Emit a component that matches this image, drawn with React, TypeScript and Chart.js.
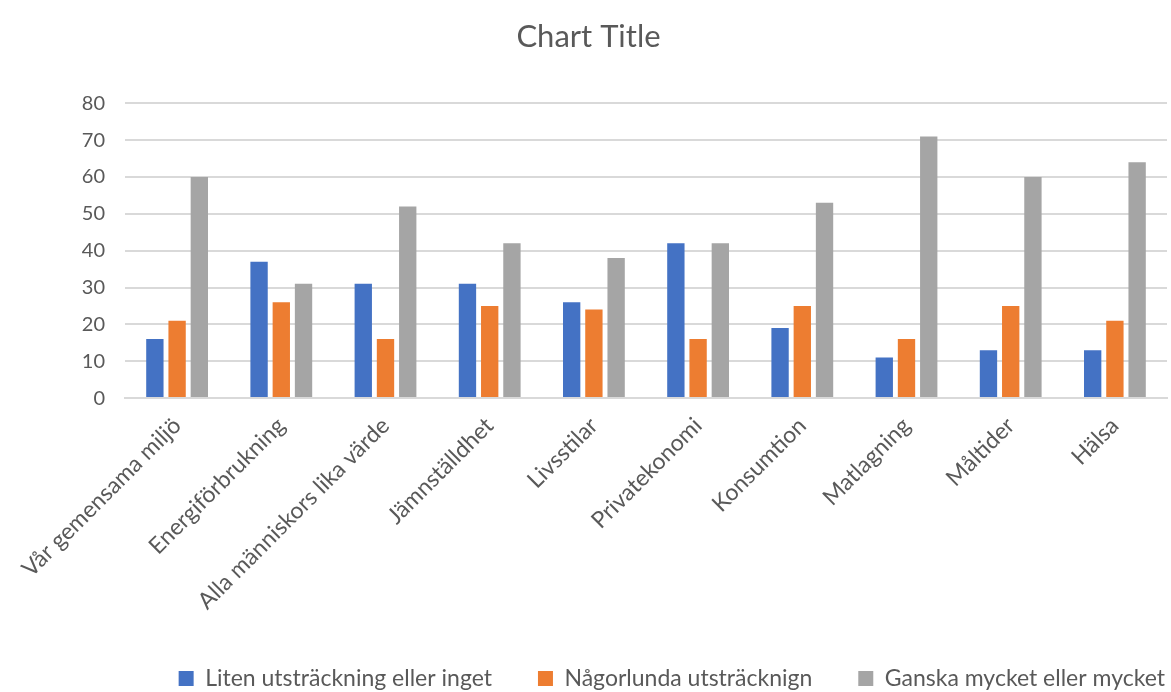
import React, { useEffect, useRef } from "react";
import { Chart, registerables } from "chart.js";

Chart.register(...registerables);

const categories = [
  "Vår gemensama miljö",
  "Energiförbrukning",
  "Alla människors lika värde",
  "Jämnställdhet",
  "Livsstilar",
  "Privatekonomi",
  "Konsumtion",
  "Matlagning",
  "Måltider",
  "Hälsa",
];

const seriesNames = [
  "Liten utsträckning eller inget",
  "Någorlunda utsträcknign",
  "Ganska mycket eller mycket",
];

const litenValues = [16, 37, 31, 31, 26, 42, 19, 11, 13, 13];
const nagorlundaValues = [21, 26, 16, 25, 24, 16, 25, 16, 25, 21];
const ganskaValues = [60, 31, 52, 42, 38, 42, 53, 71, 60, 64];

const colors = ["#4472C4", "#ED7D31", "#A5A5A5"];

const legendShift = {
  id: "legendShift",
  afterLayout(chart: any) {
    if (chart.legend) {
      chart.legend.left += 44;
      chart.legend.right += 44;
    }
  },
};

export default function App() {
  const ref = useRef<HTMLCanvasElement | null>(null);

  useEffect(() => {
    if (!ref.current) return;
    const font = "Lato, 'Open Sans', sans-serif";
    const chart = new Chart(ref.current, {
      type: "bar",
      data: {
        labels: categories,
        datasets: [litenValues, nagorlundaValues, ganskaValues].map((d, i) => ({
          label: seriesNames[i],
          data: d,
          backgroundColor: colors[i],
          borderWidth: 0,
          categoryPercentage: 0.64,
          barPercentage: 0.78,
        })),
      },
      plugins: [legendShift],
      options: {
        animation: false,
        responsive: false,
        maintainAspectRatio: false,
        layout: { padding: { left: 10, right: 4, top: 18, bottom: -8 } },
        plugins: {
          title: {
            display: true,
            text: "Chart Title",
            color: "#595959",
            font: { family: font, size: 31, weight: "normal" },
            padding: { top: 0, bottom: 48 },
          },
          legend: {
            position: "bottom",
            align: "end",
            labels: {
              color: "#595959",
              font: { family: font, size: 23 },
              boxWidth: 15,
              boxHeight: 15,
              padding: 46,
            },
          },
          tooltip: { enabled: false },
        },
        scales: {
          x: {
            grid: { display: false },
            border: { display: true, color: "#D9D9D9", width: 2 },
            ticks: {
              color: "#595959",
              font: { family: font, size: 23 },
              maxRotation: 45,
              minRotation: 45,
              autoSkip: false,
              padding: 6,
            },
          },
          y: {
            min: 0,
            max: 80,
            afterFit: (scale: any) => {
              scale.width = 115;
            },
            ticks: {
              stepSize: 10,
              color: "#595959",
              font: { family: font, size: 20 },
              padding: 20,
            },
            grid: { color: "#D9D9D9", lineWidth: 2, drawTicks: false },
            border: { display: false },
          },
        },
      },
    });
    return () => chart.destroy();
  }, []);

  return (
    <div style={{ position: "fixed", left: 0, top: 0, width: 1171, height: 692, background: "#fff" }}>
      <canvas ref={ref} width={1171} height={692} style={{ width: 1171, height: 692 }} />
    </div>
  );
}
